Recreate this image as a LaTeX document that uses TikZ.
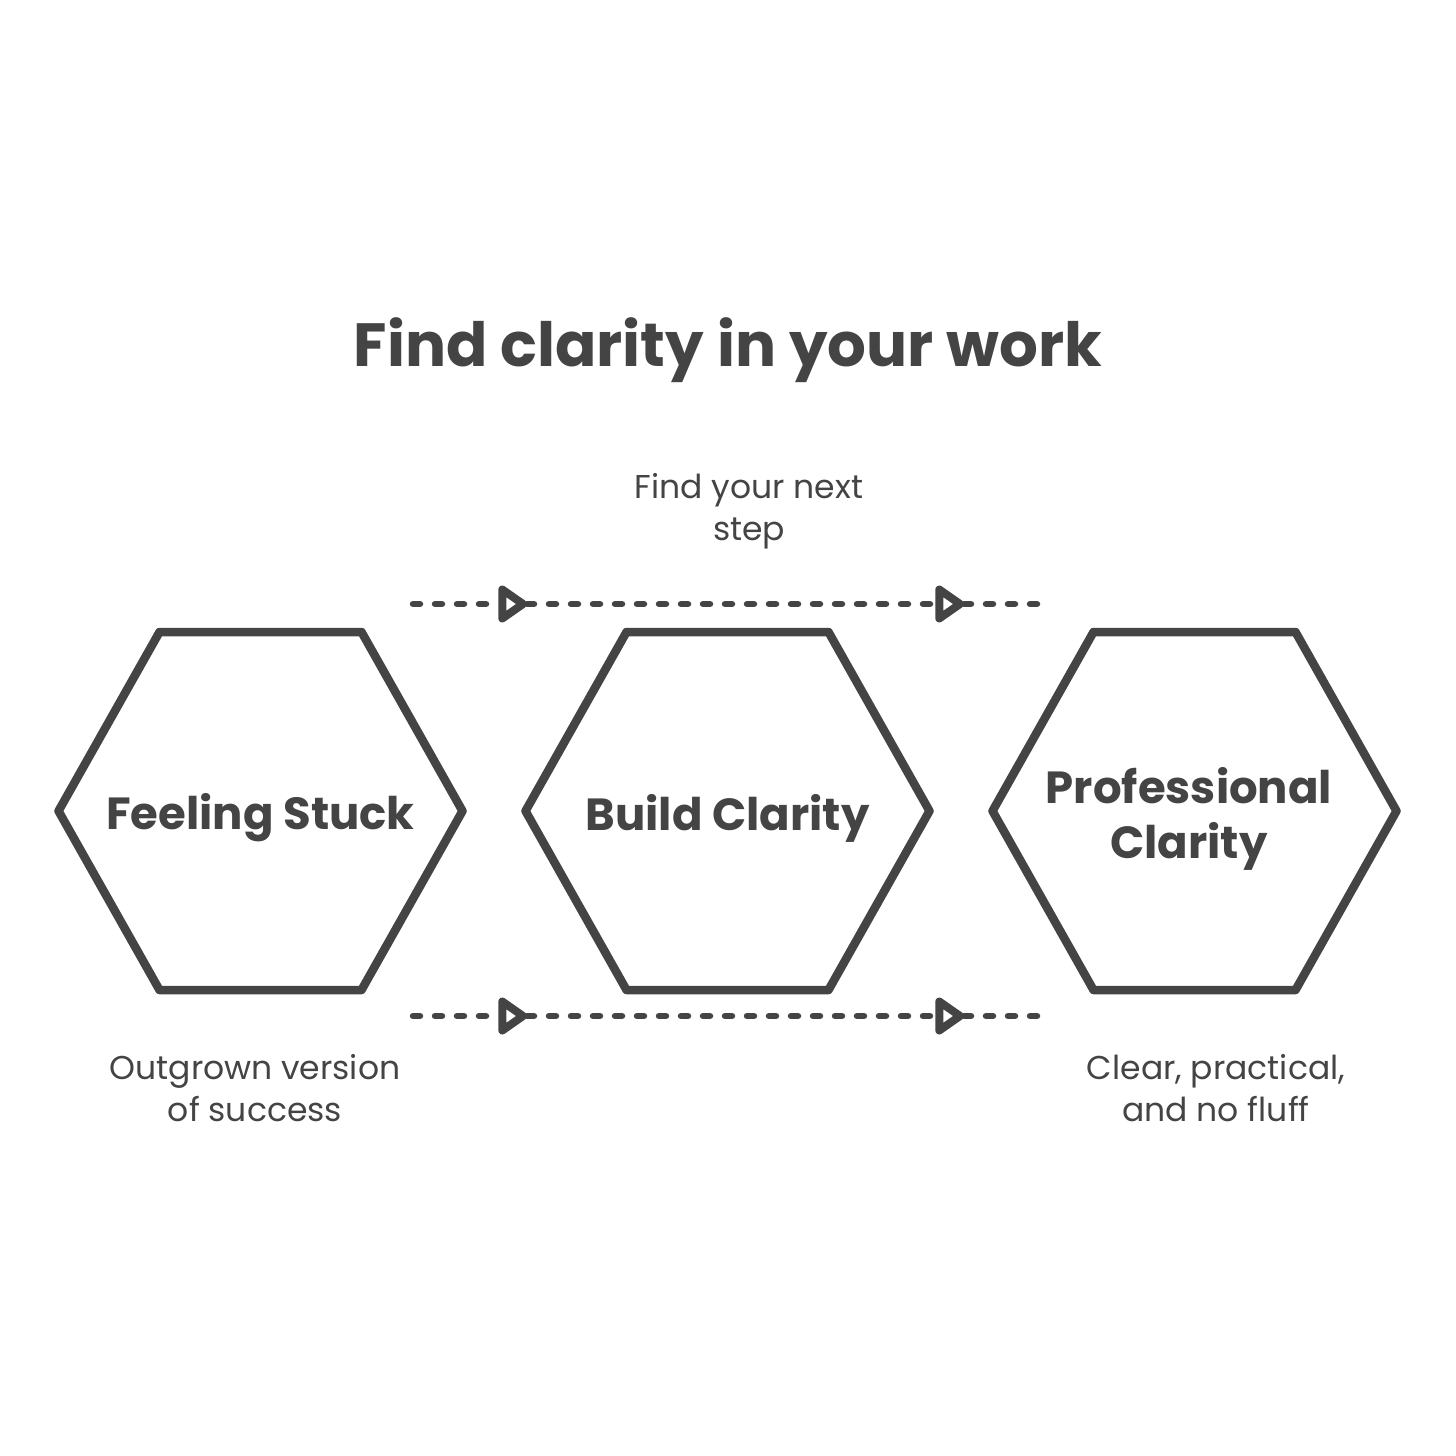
\documentclass[tikz,border=0pt]{standalone}
\usepackage{fontspec}
\setmainfont{Poppins}
\usetikzlibrary{arrows.meta}
\definecolor{ink}{HTML}{444444}
\begin{document}
\begin{tikzpicture}[x=1pt,y=-1pt,
  hexline/.style={draw=ink, line width=8.5pt, line join=round},
  hextext/.style={inner sep=0pt, align=center, text=ink,
    font=\fontsize{45}{55}\selectfont\bfseries},
  lbl/.style={text=ink, align=center, font=\fontsize{33}{42}\selectfont},
  flow/.style={draw=ink, line width=6.5pt, line cap=round, dash pattern=on 7pt off 15pt},
  tip/.style={-{Triangle[open, length=32pt, width=42pt, line width=8.5pt, round]}}
]
\useasboundingbox (0,0) rectangle (1456,1456);
\node[text=ink, font=\fontsize{61}{70}\selectfont\bfseries] (title) at (728,350) {Find clarity in your work};

\coordinate (stuckc) at (260.5,811);
\coordinate (buildc) at (727.5,811);
\coordinate (proc) at (1194.5,811);
\foreach \c in {stuckc,buildc,proc}{
  \draw[hexline] (\c) ++(-101,-179) -- ++(202,0) -- ++(101,179) -- ++(-101,179)
    -- ++(-202,0) -- ++(-101,-179) -- cycle;
}
\node[hextext] (stuck) at (260.5,818) {Feeling Stuck};
\node[hextext] (build) at (727.5,818) {Build Clarity};
\node[hextext] (pro) at (1189,819) {Professional\\Clarity};

\node[lbl] (next) at (749,511) {Find your next\\step};
\node[lbl] (outgrown) at (255,1088) {Outgrown version\\of success};
\node[lbl] (clear) at (1216,1088) {Clear, practical,\\and no fluff};

\coordinate (ta) at (413,604);
\coordinate (tb) at (527,604);
\coordinate (tc) at (964,604);
\coordinate (td) at (1043,604);
\coordinate (ba) at (413,1016);
\coordinate (bb) at (527,1016);
\coordinate (bc) at (964,1016);
\coordinate (bd) at (1043,1016);

\draw[flow, tip] (ta) -- (tb);
\draw[flow, tip] (tb) -- (tc);
\draw[flow] (tc) -- (td);
\draw[flow, tip] (ba) -- (bb);
\draw[flow, tip] (bb) -- (bc);
\draw[flow] (bc) -- (bd);
\end{tikzpicture}
\end{document}
